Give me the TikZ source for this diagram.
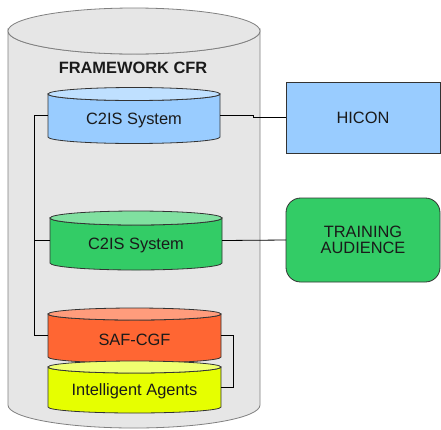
\documentclass[tikz,border=0pt]{standalone}
\usepackage{fontspec}
\setmainfont{Liberation Sans}
\usetikzlibrary{calc}

\definecolor{frameFill}{HTML}{E6E6E6}
\definecolor{frameLine}{HTML}{808080}
\definecolor{darkLine}{HTML}{333333}
\definecolor{blueBody}{HTML}{99CCFF}
\definecolor{blueTop}{HTML}{BFE0FF}
\definecolor{greenBody}{HTML}{33CC66}
\definecolor{greenTop}{HTML}{80E0A0}
\definecolor{redBody}{HTML}{FF6633}
\definecolor{redTop}{HTML}{FF9C7C}
\definecolor{yellowBody}{HTML}{E6FF00}
\definecolor{yellowTop}{HTML}{F0FF70}
\definecolor{inkText}{HTML}{1A1A1A}

\tikzset{
  cylline/.style={draw=darkLine, line width=0.6pt},
  cylbody/.style={draw=none, inner sep=0pt, outer sep=0pt},
  cyltext/.style={text=inkText, font=\fontsize{12.3}{13}\selectfont},
  box/.style={draw=darkLine, line width=0.6pt, inner sep=0pt, outer sep=0pt,
              text=inkText, font=\fontsize{12.3}{12}\selectfont, align=center},
  link/.style={draw=black, line width=0.6pt},
}

% cylinder: name, left, right, top-centre y, bottom-centre y, y radius, body, top, text
\newcommand\drawcyl[9]{%
  \pgfmathsetmacro\cylcx{(#2+#3)/2}%
  \pgfmathsetmacro\cylrx{(#3-#2)/2*0.75}%
  \pgfmathsetmacro\cylry{#6*0.75}%
  \pgfmathsetmacro\cylcy{(#4+#5)/2}%
  \pgfmathsetmacro\cylw{(#3-#2)*0.75}%
  \pgfmathsetmacro\cylh{(#5-#4)*0.75}%
  \pgfmathsetmacro\cylty{(#4+#5)/2+#6*0.75}%
  \filldraw[cylline, fill=#7] (#2,#4) -- (#2,#5)
    arc[start angle=180, end angle=360, x radius=\cylrx pt, y radius=\cylry pt]
    -- (#3,#4)
    arc[start angle=0, end angle=-180, x radius=\cylrx pt, y radius=\cylry pt]
    -- cycle;
  \filldraw[cylline, fill=#8] (\cylcx,#4) ellipse[x radius=\cylrx pt, y radius=\cylry pt];
  \node[cylbody, minimum width=\cylw pt, minimum height=\cylh pt] (#1) at (\cylcx,\cylcy) {};
  \node[cyltext] at (\cylcx,\cylty) {#9};
}

\begin{document}
\begin{tikzpicture}[x=0.75pt, y=-0.75pt]
  \useasboundingbox[fill=white] (0,0) rectangle (441,429);

  % framework container
  \begin{scope}[cylline/.style={draw=frameLine, line width=0.6pt}]
    \drawcyl{cfr}{8}{260}{31}{405}{23}{frameFill}{frameFill}{}
  \end{scope}
  \node[text=inkText, font=\bfseries\fontsize{12.3}{13}\selectfont] (cfrtitle) at (133,68) {FRAMEWORK CFR};

  % inner systems
  \drawcyl{c2isA}{48}{220}{94}{137}{6.5}{blueBody}{blueTop}{C2IS System}
  \drawcyl{c2isB}{50}{222}{218}{263}{7}{greenBody}{greenTop}{C2IS System}
  \drawcyl{saf}{48}{221}{314}{357}{6}{redBody}{redTop}{SAF-CGF}
  \drawcyl{agents}{48}{221}{367}{407}{6}{yellowBody}{yellowTop}{Intelligent Agents}

  % external parties
  \node[box, fill=blueBody, minimum width=154*0.75pt, minimum height=71*0.75pt]
    (hicon) at (363,117.5) {HICON};
  \node[box, fill=greenBody, rounded corners=11pt, minimum width=154*0.75pt, minimum height=84*0.75pt]
    (audience) at (363,240) {TRAINING\\AUDIENCE};

  % connectors
  \draw[link] (c2isA.west) -- ++(-14,0) coordinate (bus) |- (saf.west);
  \draw[link] (c2isB.west) -- (c2isB.west -| bus);
  \draw[link] (saf.east) -- ++(12,0) |- (agents.east);
  \draw[link] (c2isA.east) -- ++(33,0) |- (hicon.west);
  \draw[link] (c2isB.east) -- (audience.west);
\end{tikzpicture}
\end{document}
